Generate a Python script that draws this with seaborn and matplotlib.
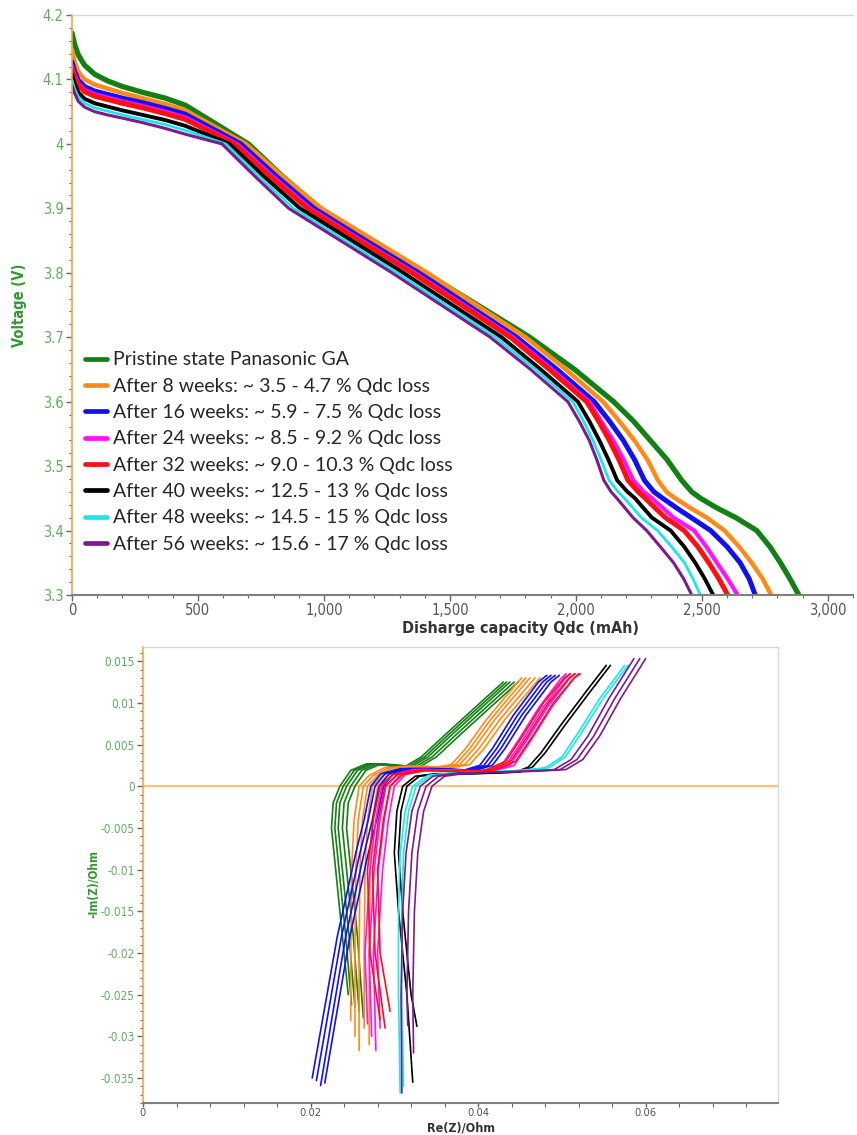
import matplotlib
matplotlib.use("Agg")
import matplotlib.pyplot as plt
from matplotlib.ticker import MultipleLocator, FuncFormatter
from matplotlib.lines import Line2D
import seaborn as sns
import pandas as pd

# ---------------- data: discharge curves (top) ----------------
labels = [
    "Pristine state Panasonic GA",
    "After 8 weeks: ~ 3.5 - 4.7 % Qdc loss",
    "After 16 weeks: ~ 5.9 - 7.5 % Qdc loss",
    "After 24 weeks: ~ 8.5 - 9.2 % Qdc loss",
    "After 32 weeks: ~ 9.0 - 10.3 % Qdc loss",
    "After 40 weeks: ~ 12.5 - 13 % Qdc loss",
    "After 48 weeks: ~ 14.5 - 15 % Qdc loss",
    "After 56 weeks: ~ 15.6 - 17 % Qdc loss",
]
colors = ["#128012", "#ff8a1a", "#1010f0", "#ff10ff", "#ff1010", "#000000", "#19e8e8", "#7d1a8c"]

# capacity grid for the initial drop (mAh) and voltage grid for the main body (V)
q_head = [0, 10, 25, 50, 90, 140, 200, 280, 370, 450]
v_body = [4.0, 3.95, 3.9, 3.85, 3.8, 3.75, 3.7, 3.65, 3.6, 3.57, 3.54, 3.51,
          3.478, 3.46, 3.45, 3.435, 3.42, 3.40, 3.375, 3.35, 3.325, 3.30]

green_v_head = [4.172, 4.155, 4.138, 4.122, 4.108, 4.098, 4.089, 4.080, 4.071, 4.060]
orange_v_head = [4.145, 4.128, 4.112, 4.100, 4.092, 4.086, 4.079, 4.071, 4.062, 4.052]
blue_v_head = [4.127, 4.113, 4.099, 4.089, 4.082, 4.077, 4.071, 4.064, 4.055, 4.046]
magenta_v_head = [4.120, 4.107, 4.094, 4.084, 4.077, 4.072, 4.066, 4.059, 4.050, 4.041]
red_v_head = [4.116, 4.104, 4.091, 4.081, 4.074, 4.069, 4.063, 4.056, 4.047, 4.038]
black_v_head = [4.108, 4.094, 4.080, 4.070, 4.063, 4.058, 4.052, 4.045, 4.037, 4.028]
cyan_v_head = [4.099, 4.086, 4.073, 4.063, 4.056, 4.051, 4.045, 4.038, 4.030, 4.021]
purple_v_head = [4.091, 4.079, 4.066, 4.057, 4.050, 4.045, 4.040, 4.033, 4.024, 4.015]

green_q_body = [700, 835, 984, 1190, 1400, 1610, 1817, 1995, 2150, 2228, 2295, 2362,
                2420, 2460, 2495, 2560, 2635, 2718, 2770, 2812, 2850, 2885]
orange_q_body = [690, 835, 990, 1200, 1410, 1605, 1800, 1960, 2108, 2172, 2232, 2284,
                 2326, 2360, 2395, 2455, 2520, 2590, 2648, 2698, 2742, 2775]
blue_q_body = [670, 810, 960, 1165, 1375, 1570, 1765, 1925, 2073, 2133, 2188, 2233,
               2272, 2310, 2345, 2400, 2458, 2535, 2600, 2652, 2688, 2712]
magenta_q_body = [655, 795, 945, 1150, 1360, 1555, 1750, 1905, 2053, 2100, 2148, 2190,
                  2228, 2270, 2303, 2345, 2388, 2470, 2518, 2560, 2603, 2642]
red_q_body = [645, 785, 935, 1140, 1350, 1545, 1740, 1895, 2043, 2090, 2133, 2171,
              2207, 2248, 2276, 2315, 2356, 2430, 2484, 2528, 2568, 2603]
black_q_body = [625, 760, 905, 1110, 1315, 1510, 1705, 1860, 2008, 2053, 2093, 2129,
                2164, 2205, 2235, 2268, 2302, 2376, 2430, 2474, 2512, 2545]
cyan_q_body = [610, 740, 880, 1085, 1290, 1485, 1680, 1840, 1988, 2030, 2068, 2100,
               2132, 2168, 2193, 2227, 2260, 2324, 2380, 2431, 2465, 2494]
purple_q_body = [595, 725, 860, 1065, 1270, 1465, 1660, 1820, 1968, 2013, 2053, 2083,
                 2111, 2140, 2163, 2195, 2227, 2281, 2335, 2388, 2428, 2460]

v_heads = [green_v_head, orange_v_head, blue_v_head, magenta_v_head,
           red_v_head, black_v_head, cyan_v_head, purple_v_head]
q_bodies = [green_q_body, orange_q_body, blue_q_body, magenta_q_body,
            red_q_body, black_q_body, cyan_q_body, purple_q_body]
top_lw = [3.8, 3.2, 3.6, 3.0, 3.6, 2.8, 2.0, 2.2]

# ---------------- data: Nyquist curves (bottom) ----------------
green_re = [0.0253, 0.0246, 0.0238, 0.0233, 0.0235, 0.0243, 0.0256, 0.0275, 0.0298, 0.0318, 0.0340, 0.0370, 0.0405, 0.0438]
green_im = [-0.0265, -0.018, -0.010, -0.005, -0.002, 0.0, 0.0019, 0.0027, 0.0025, 0.0022, 0.0035, 0.0063, 0.0095, 0.0125]
orange_re = [0.0258, 0.0258, 0.0259, 0.0262, 0.0268, 0.0280, 0.0298, 0.0325, 0.0355, 0.0378, 0.0395, 0.0420, 0.0445, 0.0462]
orange_im = [-0.030, -0.020, -0.010, -0.004, 0.0, 0.0013, 0.0022, 0.0024, 0.0022, 0.0026, 0.0045, 0.0080, 0.0110, 0.0130]
blue_re = [0.0210, 0.0240, 0.0262, 0.0272, 0.0280, 0.0292, 0.0315, 0.0350, 0.0390, 0.0410, 0.0425, 0.0450, 0.0480, 0.0490]
blue_im = [-0.0355, -0.018, -0.008, -0.004, 0.0, 0.0015, 0.0021, 0.0021, 0.0019, 0.0025, 0.0045, 0.0085, 0.0125, 0.0133]
magenta_re = [0.0275, 0.0272, 0.0278, 0.0285, 0.0292, 0.0305, 0.0330, 0.0370, 0.0410, 0.0435, 0.0455, 0.0480, 0.0505, 0.0512]
magenta_im = [-0.030, -0.020, -0.010, -0.004, 0.0, 0.0014, 0.0020, 0.0019, 0.0018, 0.0025, 0.0055, 0.0095, 0.0128, 0.0135]
red_re = [0.0295, 0.0283, 0.0280, 0.0287, 0.0295, 0.0310, 0.0340, 0.0380, 0.0420, 0.0445, 0.0465, 0.0490, 0.0515, 0.0522]
red_im = [-0.0270, -0.020, -0.010, -0.004, 0.0, 0.0014, 0.0019, 0.0018, 0.0019, 0.0030, 0.0060, 0.0100, 0.0130, 0.0135]
black_re = [0.0322, 0.0315, 0.0305, 0.0300, 0.0303, 0.0310, 0.0325, 0.0350, 0.0390, 0.0420, 0.0445, 0.0460, 0.0475, 0.0500, 0.0530, 0.0553]
black_im = [-0.0355, -0.025, -0.015, -0.008, -0.003, 0.0, 0.0012, 0.0015, 0.0015, 0.0016, 0.0017, 0.0023, 0.0040, 0.0075, 0.0115, 0.0145]
cyan_re = [0.0307, 0.0305, 0.0305, 0.0307, 0.0313, 0.0322, 0.0340, 0.0370, 0.0410, 0.0450, 0.0480, 0.0500, 0.0520, 0.0545, 0.0575]
cyan_im = [-0.0368, -0.025, -0.015, -0.008, -0.003, 0.0, 0.0013, 0.0016, 0.0017, 0.0019, 0.0022, 0.0035, 0.0065, 0.0105, 0.0145]
purple_re = [0.0313, 0.0312, 0.0314, 0.0318, 0.0325, 0.0335, 0.0350, 0.0380, 0.0420, 0.0460, 0.0495, 0.0515, 0.0535, 0.0560, 0.0590]
purple_im = [-0.0368, -0.025, -0.015, -0.008, -0.003, 0.0, 0.0012, 0.0016, 0.0017, 0.0018, 0.0020, 0.0032, 0.0060, 0.0105, 0.0153]

# per-cell horizontal offsets and low-end -Im values, read from the bundles
green_dx = [-0.0008, -0.0004, 0.0, 0.0005, 0.0010]
green_low = [-0.0250, -0.0262, -0.0265, -0.0270, -0.0278]
orange_dx = [-0.0010, -0.0005, 0.0, 0.0006, 0.0012]
orange_low = [-0.0281, -0.0300, -0.0317, -0.0290, -0.0310]
blue_dx = [-0.0008, -0.0003, 0.0002, 0.0007]
blue_low = [-0.0350, -0.0353, -0.0359, -0.0356]
magenta_dx = [-0.0007, -0.0002, 0.0003, 0.0008]
magenta_low = [-0.0285, -0.0300, -0.0317, -0.0290]
red_dx = [-0.0012, -0.0006, 0.0]
red_low = [-0.0280, -0.0290, -0.0270]
black_dx = [0.0, 0.0005]
black_low = [-0.0355, -0.0288]
cyan_dx = [0.0, 0.0004]
cyan_low = [-0.0368, -0.0360]
purple_dx = [-0.0004, 0.0003, 0.0010]
purple_low = [-0.0368, -0.0287, -0.0320]

nyq_re = [green_re, orange_re, blue_re, magenta_re, red_re, black_re, cyan_re, purple_re]
nyq_im = [green_im, orange_im, blue_im, magenta_im, red_im, black_im, cyan_im, purple_im]
nyq_dx = [green_dx, orange_dx, blue_dx, magenta_dx, red_dx, black_dx, cyan_dx, purple_dx]
nyq_low = [green_low, orange_low, blue_low, magenta_low, red_low, black_low, cyan_low, purple_low]

# ---------------- styling ----------------
sns.set_style("white")
plt.rcParams["font.family"] = ["Liberation Sans Narrow", "DejaVu Sans"]
plt.rcParams["font.stretch"] = "condensed"

TICK_GREEN = "#5fae5f"
LABEL_GREEN = "#2f9a2f"
GREY = "#666666"
AXIS_ORANGE = "#f5a44a"

fig = plt.figure(figsize=(8.57, 11.35), dpi=100)
ax1 = fig.add_axes([72 / 857, 1 - 595 / 1135, 781 / 857, 580 / 1135])
ax2 = fig.add_axes([143 / 857, 1 - 1103 / 1135, 635 / 857, 456 / 1135])

# ---- top plot ----
for i in range(len(labels)):
    q = q_head + q_bodies[i]
    v = v_heads[i] + v_body
    df = pd.DataFrame({"Q": q, "V": v})
    sns.lineplot(data=df, x="Q", y="V", sort=False, estimator=None,
                 color=colors[i], lw=top_lw[i], ax=ax1)

ax1.set_xlim(0, 3100)
ax1.set_ylim(3.3, 4.2)
ax1.xaxis.set_major_locator(MultipleLocator(500))
ax1.xaxis.set_minor_locator(MultipleLocator(100))
ax1.yaxis.set_major_locator(MultipleLocator(0.1))
ax1.yaxis.set_minor_locator(MultipleLocator(0.02))
ax1.xaxis.set_major_formatter(FuncFormatter(lambda x, p: f"{x:,.0f}"))
ax1.yaxis.set_major_formatter(FuncFormatter(lambda y, p: f"{y:g}"))
ax1.set_xlabel("Disharge capacity Qdc (mAh)", fontsize=11.5, fontweight="bold",
               color="#333333", va="top")
ax1.xaxis.set_label_coords(0.574, -0.044)
ax1.set_ylabel("Voltage (V)", fontsize=10.5, fontweight="bold", color=LABEL_GREEN,
               family=["DejaVu Sans"])
ax1.yaxis.set_label_coords(-0.058, 0.5)

handles = [Line2D([0], [0], color=c, lw=3.4) for c in colors]
leg = ax1.legend(handles, labels, loc="upper left", bbox_to_anchor=(0.017, 0.42),
                 frameon=False, borderpad=0, borderaxespad=0, handlelength=1.1,
                 handletextpad=0.35, labelspacing=0.48,
                 prop={"family": ["Lato", "DejaVu Sans"], "size": 14})

# ---- bottom plot ----
for i in range(len(labels)):
    for dx, low in zip(nyq_dx[i], nyq_low[i]):
        re = [r + dx for r in nyq_re[i]]
        im = [low] + nyq_im[i][1:]
        df = pd.DataFrame({"re": re, "im": im})
        sns.lineplot(data=df, x="re", y="im", sort=False, estimator=None,
                     color=colors[i], lw=1.2, ax=ax2)

ax2.axhline(0, color="#ffc080", lw=1.6, zorder=0)
ax2.set_xlim(0, 0.0758)
ax2.set_ylim(-0.038, 0.0167)
ax2.xaxis.set_major_locator(MultipleLocator(0.02))
ax2.xaxis.set_minor_locator(MultipleLocator(0.004))
ax2.yaxis.set_major_locator(MultipleLocator(0.005))
ax2.yaxis.set_minor_locator(MultipleLocator(0.001))
ax2.xaxis.set_major_formatter(FuncFormatter(lambda x, p: f"{x:g}"))
ax2.yaxis.set_major_formatter(FuncFormatter(lambda y, p: f"{round(y, 4):g}"))
ax2.set_xlabel("Re(Z)/Ohm", fontsize=9, fontweight="bold", color="#333333",
               family=["DejaVu Sans"], va="top")
ax2.xaxis.set_label_coords(0.5, -0.041)
ax2.set_ylabel("-Im(Z)/Ohm", fontsize=8.5, fontweight="bold", color=LABEL_GREEN,
               family=["DejaVu Sans"])
ax2.yaxis.set_label_coords(-0.068, 0.48)

for ax, lsize in ((ax1, 10.5), (ax2, 8.5)):
    ax.tick_params(axis="both", which="both", direction="out", bottom=True, left=True,
                   top=False, right=False, color=GREY)
    ax.tick_params(axis="both", which="major", length=4, width=1, labelsize=lsize, pad=2)
    ax.tick_params(axis="both", which="minor", length=2.5, width=0.8)
    ax.tick_params(axis="x", labelcolor="#555555")
    ax.tick_params(axis="y", labelcolor=TICK_GREEN)
    ax.spines["left"].set_color(AXIS_ORANGE)
    ax.spines["left"].set_linewidth(1.2)
    ax.spines["bottom"].set_color("#808080")
    ax.spines["bottom"].set_linewidth(1.5)
    ax.spines["top"].set_color("#d8d8d8")
    ax.spines["top"].set_linewidth(1.0)
    ax.spines["right"].set_color("#d8d8d8")
    ax.spines["right"].set_linewidth(1.0)

ax2.tick_params(axis="x", which="major", pad=0.5, labelsize=8)
ax2.tick_params(axis="x", which="both", length=3)
ax1.spines["right"].set_visible(False)

fig.savefig("out.png", dpi=100)
